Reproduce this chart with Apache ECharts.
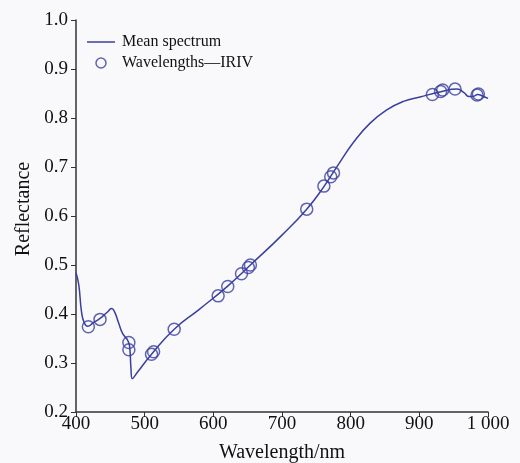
<!DOCTYPE html>
<html>
<head>
<meta charset="utf-8">
<script src="https://cdn.jsdelivr.net/npm/echarts@6/dist/echarts.min.js"></script>
<style>
html,body{margin:0;padding:0;background:#f9f9fb;}
#chart{width:520px;height:463px;}
</style>
</head>
<body>
<div id="chart"></div>
<script>
var spectrumWavelengths = [400,404,408,412,417,425,435,445,452,456,462,468,475,478,480,482,490,510,543,580,620,654,700,736,760,782,805,828,852,877,901,930,955,965,972,978,985,992,1000];
var spectrumReflectance = [0.484,0.46,0.405,0.382,0.375,0.382,0.391,0.403,0.411,0.405,0.382,0.36,0.347,0.335,0.29,0.268,0.282,0.318,0.369,0.410,0.456,0.50,0.561,0.614,0.658,0.705,0.752,0.789,0.816,0.834,0.843,0.853,0.859,0.852,0.844,0.844,0.848,0.845,0.840];
var iriWavelengths = [418,435,477,477,510,513,543,607,621,641,651,654,736,761,771,775,919,931,934,952,984,986];
var iriReflectance = [0.374,0.389,0.342,0.327,0.318,0.323,0.369,0.437,0.456,0.482,0.495,0.500,0.614,0.661,0.680,0.688,0.848,0.854,0.857,0.859,0.847,0.849];
var xTicks = [400,500,600,700,800,900,1000];
var xTickLabels = ['400','500','600','700','800','900','1 000'];
var yTickLabels = ['0.2','0.3','0.4','0.5','0.6','0.7','0.8','0.9','1.0'];

var lineData = spectrumWavelengths.map(function(w,i){return [w, spectrumReflectance[i]];});
var scatterData = iriWavelengths.map(function(w,i){return [w, iriReflectance[i]];});
var color = '#3a3f9e';
var font = 'Liberation Serif';

var chart = echarts.init(document.getElementById('chart'));
chart.setOption({
  backgroundColor: '#f9f9fb',
  animation: false,
  grid: {left: 76, right: 32, top: 20, bottom: 51, containLabel: false, outerBoundsMode: 'none'},
  legend: {
    orient: 'vertical',
    left: 82, top: 29,
    itemWidth: 28, itemHeight: 10, itemGap: 5,
    textStyle: {fontFamily: font, fontSize: 16, color: '#111', padding: [0,0,0,2]},
    data: [
      {name: 'Mean spectrum', icon: 'path://M0,0 L28,0 L28,1.5 L0,1.5 Z'},
      {name: 'Wavelengths\u2014IRIV', icon: 'circle',
       itemStyle: {color: 'rgba(0,0,0,0)', borderColor: color, borderWidth: 1.5}}
    ]
  },
  xAxis: {
    type: 'value', min: 400, max: 1000, interval: 100,
    name: 'Wavelength/nm', nameLocation: 'middle', nameGap: 31,
    nameTextStyle: {fontFamily: font, fontSize: 20, color: '#111'},
    axisLine: {lineStyle: {color: '#333', width: 1.5}},
    axisTick: {inside: false, length: 5, lineStyle: {color: '#333'}},
    axisLabel: {fontFamily: font, fontSize: 19, color: '#111', margin: 3,
      formatter: function(v){ var i = xTicks.indexOf(v); return i >= 0 ? xTickLabels[i] : ''; }},
    splitLine: {show: false}
  },
  yAxis: {
    type: 'value', min: 0.2, max: 1.0, interval: 0.1,
    name: 'Reflectance', nameLocation: 'middle', nameGap: 39,
    nameTextStyle: {fontFamily: font, fontSize: 20, color: '#111', padding: [0,0,0,14]},
    axisLine: {show: true, lineStyle: {color: '#333', width: 1.5}},
    axisTick: {show: true, inside: false, length: 5, lineStyle: {color: '#333'}},
    axisLabel: {fontFamily: font, fontSize: 19, color: '#111', margin: 8,
      formatter: function(v){ var i = Math.round((v - 0.2) * 10); return yTickLabels[i] || ''; }},
    splitLine: {show: false}
  },
  series: [
    {
      name: 'Mean spectrum', type: 'line', data: lineData,
      showSymbol: false, symbol: 'none',
      smooth: 0.5,
      lineStyle: {color: color, width: 1.5},
      itemStyle: {color: color}
    },
    {
      name: 'Wavelengths\u2014IRIV', type: 'scatter', data: scatterData,
      symbol: 'circle', symbolSize: 12,
      itemStyle: {color: 'rgba(0,0,0,0)', borderColor: color, borderWidth: 1.5}
    }
  ]
});
</script>
</body>
</html>
